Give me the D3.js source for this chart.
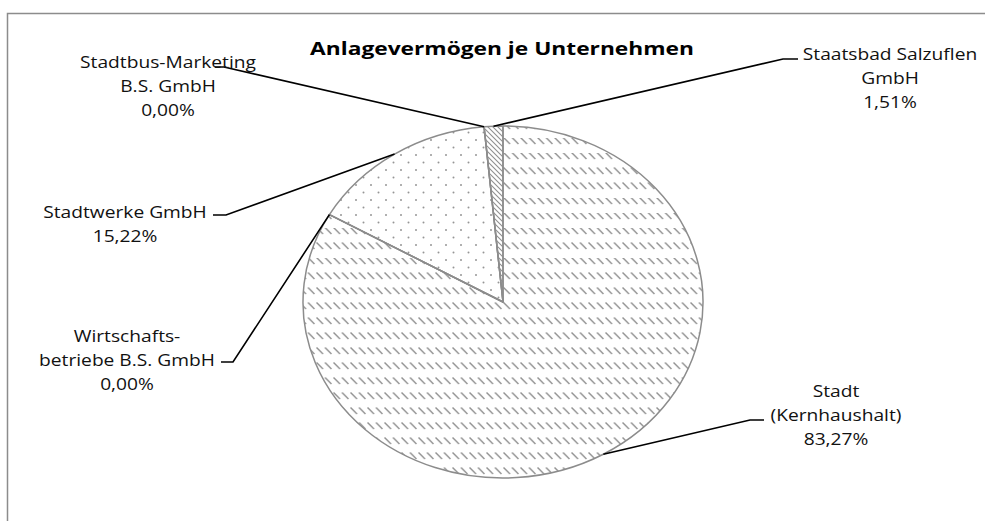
<!DOCTYPE html>
<html><head><meta charset="utf-8">
<script src="https://cdn.jsdelivr.net/npm/d3@7"></script>
<style>body{margin:0;background:#fff;overflow:hidden}</style></head>
<body>
<svg id="chart" width="985" height="521"></svg>
<script>
// ---- data ----
const title = "Anlagevermögen je Unternehmen";
const categories = ["Stadt (Kernhaushalt)", "Wirtschaftsbetriebe B.S. GmbH", "Stadtwerke GmbH", "Stadtbus-Marketing B.S. GmbH", "Staatsbad Salzuflen GmbH"];
const nameLines = [["Stadt", "(Kernhaushalt)"], ["Wirtschafts-", "betriebe B.S. GmbH"], ["Stadtwerke GmbH"], ["Stadtbus-Marketing", "B.S. GmbH"], ["Staatsbad Salzuflen", "GmbH"]];
const values = [83.27, 0.00, 15.22, 0.00, 1.51];

// ---- layout ----
const W = 985, H = 521;
const cx = 503, cy = 302, rx = 200, ry = 176;
const sx = rx / ry;
const textStretch = 1.2;
const fills = ["url(#hatchDash)", "none", "url(#dots)", "none", "url(#hatchLine)"];
// label block centre x, first baseline y, leader elbow, stub end
const labelLayout = [
  {x: 836, y: 397, elbow: [750, 420], stub: [764, 420]},
  {x: 127, y: 342, elbow: [233, 362], stub: [221, 362]},
  {x: 125, y: 218, elbow: [226, 215], stub: [213, 215]},
  {x: 168, y: 68,  elbow: [224, 67],  stub: [215, 67]},
  {x: 890, y: 60,  elbow: [783, 59],  stub: [798, 59]}
];

const svg = d3.select("#chart");
const defs = svg.append("defs");
const inv = `scale(${1 / sx},1)`;

// dashed downward diagonal
const p1 = defs.append("pattern").attr("id", "hatchDash").attr("patternUnits", "userSpaceOnUse")
  .attr("width", 8.5).attr("height", 15).attr("patternTransform", inv);
p1.append("path").attr("d", "M0.5,0.5 L7,7").attr("stroke", "#909090").attr("stroke-width", 1.4).attr("fill", "none");
// dotted
const p2 = defs.append("pattern").attr("id", "dots").attr("patternUnits", "userSpaceOnUse")
  .attr("width", 15).attr("height", 15).attr("patternTransform", inv);
p2.append("circle").attr("cx", 3).attr("cy", 3).attr("r", 1).attr("fill", "#959595");
p2.append("circle").attr("cx", 10.5).attr("cy", 10.5).attr("r", 1).attr("fill", "#959595");
// continuous downward diagonal
const p3 = defs.append("pattern").attr("id", "hatchLine").attr("patternUnits", "userSpaceOnUse")
  .attr("width", 5).attr("height", 5).attr("patternTransform", inv);
p3.append("path").attr("d", "M0,0 L5,5 M-1,4 L1,6 M4,-1 L6,1").attr("stroke", "#909090").attr("stroke-width", 1.1).attr("fill", "none");

// chart border
svg.append("rect").attr("x", 7.5).attr("y", 13.5).attr("width", W).attr("height", H)
  .attr("fill", "none").attr("stroke", "#8c8c8c").attr("stroke-width", 1.5);

// title
svg.append("text").attr("transform", `translate(502,55) scale(1.3,1)`)
  .attr("text-anchor", "middle").attr("font-family", "Open Sans, sans-serif")
  .attr("font-weight", "bold").attr("font-size", 17.5).attr("fill", "#000").text(title);

// pie
const pie = d3.pie().sort(null).value(d => d).startAngle(0).endAngle(2 * Math.PI);
const arcs = pie(values);
const arc = d3.arc().innerRadius(0).outerRadius(ry);
const g = svg.append("g").attr("transform", `translate(${cx},${cy}) scale(${sx},1)`);
g.selectAll("path.slice").data(arcs).join("path").attr("class", "slice")
  .attr("d", arc).attr("fill", (d, i) => fills[i] === "none" ? "none" : "#fff")
  .attr("stroke", "none");
g.selectAll("path.pat").data(arcs).join("path").attr("class", "pat")
  .attr("d", arc).attr("fill", (d, i) => fills[i])
  .attr("stroke", "#8c8c8c").attr("stroke-width", 1.5).attr("vector-effect", "non-scaling-stroke")
  .attr("stroke-linejoin", "round");

// leader lines and labels
const fmt = v => d3.format(".2f")(v).replace(".", ",") + "%";
arcs.forEach((a, i) => {
  const mid = (a.startAngle + a.endAngle) / 2;
  const px = cx + rx * Math.sin(mid), py = cy - ry * Math.cos(mid);
  const L = labelLayout[i];
  svg.append("path").attr("d", d3.line()([[px, py], L.elbow, L.stub]))
    .attr("fill", "none").attr("stroke", "#000").attr("stroke-width", 1.6);
  const lines = nameLines[i].concat([fmt(values[i])]);
  lines.forEach((t, k) => {
    svg.append("text").attr("transform", `translate(${L.x},${L.y + k * 24}) scale(${textStretch},1)`)
      .attr("text-anchor", "middle").attr("font-family", "Open Sans, sans-serif")
      .attr("font-size", 16).attr("fill", "#111").text(t);
  });
});
</script>
</body></html>
